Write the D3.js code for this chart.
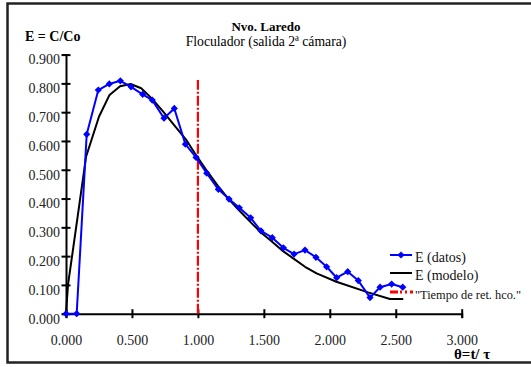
<!DOCTYPE html>
<html>
<head>
<meta charset="utf-8">
<script src="https://cdn.jsdelivr.net/npm/d3@7"></script>
<style>
  html, body { margin: 0; padding: 0; background: #fff; }
  svg { display: block; font-family: "Liberation Serif", "Times New Roman", serif; }
</style>
</head>
<body>
<svg id="chart" width="531" height="367"></svg>
<script>
// Residence time distribution: measured E(θ) vs model E(θ)
const datosT = [0, 0.081, 0.157, 0.245, 0.328, 0.412, 0.493, 0.581, 0.654, 0.743, 0.821, 0.905,
  0.986, 1.067, 1.155, 1.236, 1.314, 1.400, 1.478, 1.564, 1.648, 1.729, 1.812, 1.895, 1.976,
  2.052, 2.136, 2.216, 2.305, 2.381, 2.469, 2.553];
const datosE = [0, 0, 0.623, 0.777, 0.798, 0.809, 0.788, 0.762, 0.742, 0.679, 0.713, 0.589,
  0.543, 0.488, 0.432, 0.398, 0.368, 0.333, 0.288, 0.264, 0.229, 0.207, 0.221, 0.196, 0.163,
  0.125, 0.146, 0.115, 0.056, 0.092, 0.103, 0.092];

const modeloT = [0, 0.015, 0.076, 0.152, 0.25, 0.33, 0.41, 0.49, 0.57, 0.65, 0.74, 0.82, 0.91,
  0.99, 1.07, 1.15, 1.23, 1.31, 1.395, 1.471, 1.547, 1.635, 1.723, 1.812, 1.90, 2.05, 2.29,
  2.456, 2.557];
const modeloE = [0, 0.10, 0.297, 0.545, 0.684, 0.76, 0.79, 0.798, 0.783, 0.748, 0.70, 0.655,
  0.605, 0.548, 0.495, 0.445, 0.40, 0.36, 0.32, 0.285, 0.256, 0.221, 0.192, 0.163, 0.140,
  0.111, 0.074, 0.051, 0.051];

const tiempoRet = [1.0];   // hydraulic retention time (θ = 1)

const xTicks = [0, 0.5, 1.0, 1.5, 2.0, 2.5, 3.0];
const yTicks = [0, 0.1, 0.2, 0.3, 0.4, 0.5, 0.6, 0.7, 0.8, 0.9];

const legendLabels = ["E (datos)", "E (modelo)", "\"Tiempo de ret. hco.\""];

const svg = d3.select("#chart");

const x = d3.scaleLinear().domain([0, 3]).range([66, 461.7]);
const y = d3.scaleLinear().domain([0, 0.9]).range([313.7, 54.6]);
const fmt = d3.format(".3f");

// outer frame
svg.append("rect")
  .attr("x", 7.5).attr("y", 3.5).attr("width", 560).attr("height", 359)
  .attr("fill", "none").attr("stroke", "#222").attr("stroke-width", 2.5);

// titles
svg.append("text").attr("x", 266).attr("y", 30.5).attr("text-anchor", "middle")
  .attr("font-size", 13).attr("font-weight", "bold").text("Nvo. Laredo");
svg.append("text").attr("x", 266).attr("y", 45.5).attr("text-anchor", "middle")
  .attr("font-size", 13.7).text("Floculador (salida 2ª cámara)");
svg.append("text").attr("x", 25).attr("y", 40.5)
  .attr("font-size", 14).attr("font-weight", "bold").text("E = C/Co");
svg.append("text").attr("x", 454).attr("y", 359)
  .attr("font-size", 15).attr("font-weight", "bold").text("θ=t/ τ");

// y axis
const gy = svg.append("g").attr("transform", `translate(${x(0)},0)`)
  .call(d3.axisLeft(y).tickValues(yTicks).tickFormat(fmt).tickSize(4).tickPadding(6));
gy.select(".domain").attr("stroke", "#000").attr("stroke-width", 2);
gy.selectAll(".tick line").attr("x1", -4.5).attr("x2", 4.5).attr("stroke-width", 2);
gy.selectAll(".tick text").attr("font-family", "Liberation Serif, serif").attr("font-size", 14)
  .attr("fill", "#222").attr("x", -6).attr("dy", "0.95em").attr("y", -4);

// x axis
const gx = svg.append("g").attr("transform", `translate(0,${y(0)})`)
  .call(d3.axisBottom(x).tickValues(xTicks).tickFormat(fmt).tickSize(4).tickPadding(6));
gx.select(".domain").attr("stroke", "#000").attr("stroke-width", 2);
gx.selectAll(".tick line").attr("y1", -4.5).attr("y2", 4.5).attr("stroke-width", 2);
gx.selectAll(".tick text").attr("font-family", "Liberation Serif, serif").attr("font-size", 14)
  .attr("fill", "#222").attr("y", 21).attr("dy", "0.71em");

// retention time marker
svg.selectAll(".ret").data(tiempoRet).join("line").attr("class", "ret")
  .attr("x1", d => x(d)).attr("x2", d => x(d))
  .attr("y1", y(0)).attr("y2", 80)
  .attr("stroke", "#ff0000").attr("stroke-width", 2.2)
  .attr("stroke-dasharray", "10,2,2,2");

// model curve
const modelo = modeloT.map((t, i) => [t, modeloE[i]]);
svg.append("path").datum(modelo)
  .attr("fill", "none").attr("stroke", "#000").attr("stroke-width", 2)
  .attr("stroke-linejoin", "round")
  .attr("d", d3.line().x(d => x(d[0])).y(d => y(d[1])));

// measured data
const datos = datosT.map((t, i) => [t, datosE[i]]);
svg.append("path").datum(datos)
  .attr("fill", "none").attr("stroke", "#0000ff").attr("stroke-width", 2)
  .attr("stroke-linejoin", "round")
  .attr("d", d3.line().x(d => x(d[0])).y(d => y(d[1])));

const diamond = d3.symbol().type(d3.symbolSquare).size(26);
svg.selectAll(".pt").data(datos).join("path").attr("class", "pt")
  .attr("d", diamond)
  .attr("transform", d => `translate(${x(d[0])},${y(d[1])}) rotate(45)`)
  .attr("fill", "#0000ff");

// legend
const lg = svg.append("g");
const rowsY = [255, 273, 292];
lg.append("line").attr("x1", 390).attr("x2", 412).attr("y1", rowsY[0]).attr("y2", rowsY[0])
  .attr("stroke", "#0000ff").attr("stroke-width", 2);
lg.append("path").attr("d", diamond)
  .attr("transform", `translate(401,${rowsY[0]}) rotate(45)`).attr("fill", "#0000ff");
lg.append("line").attr("x1", 390).attr("x2", 412).attr("y1", rowsY[1]).attr("y2", rowsY[1])
  .attr("stroke", "#000").attr("stroke-width", 2);
lg.append("line").attr("x1", 390).attr("x2", 413).attr("y1", rowsY[2]).attr("y2", rowsY[2])
  .attr("stroke", "#ff0000").attr("stroke-width", 3)
  .attr("stroke-dasharray", "8,2,2,3,2,3");
lg.selectAll("text").data(legendLabels).join("text")
  .attr("x", 415).attr("y", (d, i) => rowsY[i] + 7)
  .attr("font-size", 14).attr("fill", "#111").text(d => d)
  .filter((d, i) => i === 2)
  .attr("font-size", 13.2)
  .attr("textLength", 106).attr("lengthAdjust", "spacingAndGlyphs");
</script>
</body>
</html>
